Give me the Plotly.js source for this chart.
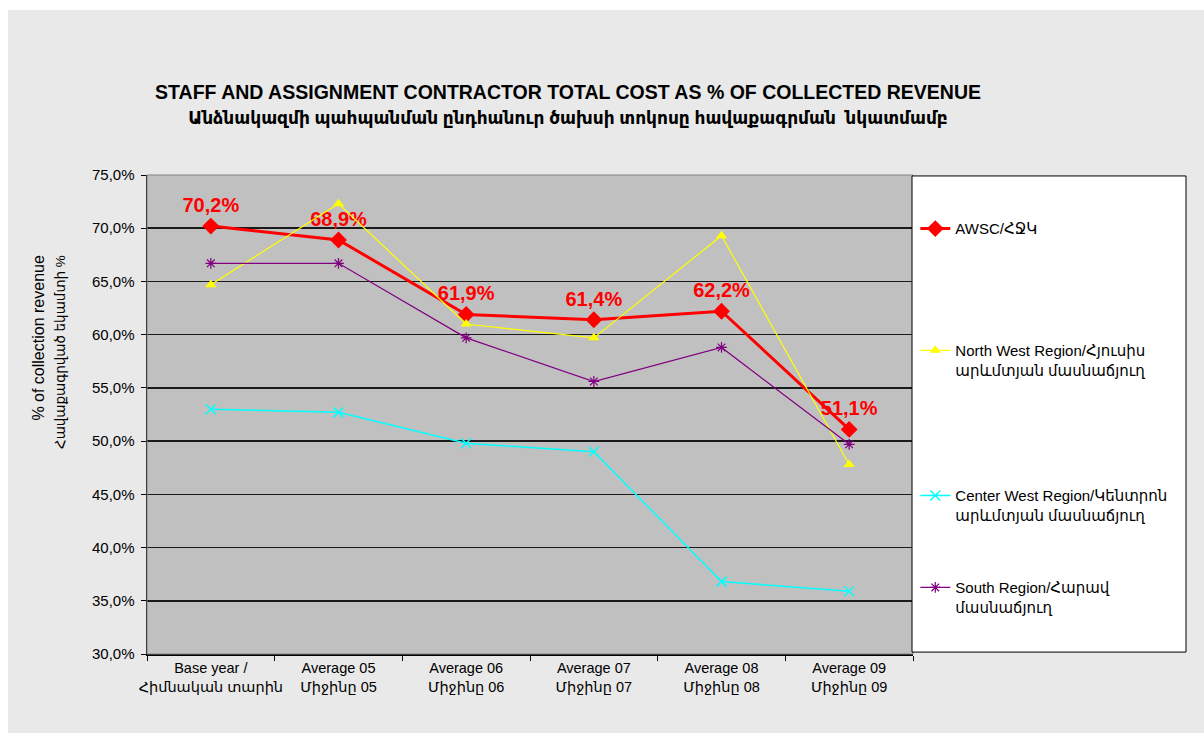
<!DOCTYPE html>
<html>
<head>
<meta charset="utf-8">
<script src="https://cdn.plot.ly/plotly-3.0.1.min.js"></script>
<style>html,body{margin:0;padding:0;background:#fff}#chart{width:1204px;height:733px}</style>
</head>
<body>
<div id="chart"></div>
<script>
var categories = [
  "Base year /<br>Հիմնական տարին",
  "Average 05<br>Միջինը 05",
  "Average 06<br>Միջինը 06",
  "Average 07<br>Միջինը 07",
  "Average 08<br>Միջինը 08",
  "Average 09<br>Միջինը 09"
];
var awsc = [70.2, 68.9, 61.9, 61.4, 62.2, 51.1];
var northWest = [64.7, 72.3, 61.0, 59.7, 69.3, 47.8];
var centerWest = [53.0, 52.7, 49.8, 49.0, 36.8, 35.9];
var south = [66.7, 66.7, 59.7, 55.6, 58.8, 49.7];
var seriesNames = [
  "AWSC/ՀՋԿ",
  "North West Region/Հյուսիս<br>արևմտյան մասնաճյուղ",
  "Center West Region/Կենտրոն<br>արևմտյան մասնաճյուղ",
  "South Region/Հարավ<br>մասնաճյուղ"
];
var yTicks = [30, 35, 40, 45, 50, 55, 60, 65, 70, 75];
var yTitleLines = ["% of collection revenue", "Հավաքագրված եկամտի %"];
var titleLines = [
  "STAFF AND ASSIGNMENT CONTRACTOR TOTAL COST AS % OF COLLECTED REVENUE",
  "Անձնակազմի պահպանման ընդհանուր ծախսի տոկոսը հավաքագրման  նկատմամբ"
];

var FONT = "Arial, 'Liberation Sans', 'DejaVu Sans', sans-serif";

function fmt(v){ return v.toFixed(1).replace('.', ',') + '%'; }

var traces = [
  {
    x: categories, y: awsc, name: seriesNames[0], type: 'scatter', mode: 'lines+markers+text',
    line: {color: '#ff0000', width: 3},
    marker: {symbol: 'diamond', size: 13, color: '#ff0000'},
    text: awsc.map(fmt),
    textposition: 'top center',
    textfont: {family: FONT, size: 20, color: '#ff0000', weight: 'bold'},
    legend: 'legend', cliponaxis: false
  },
  {
    x: categories, y: northWest, name: seriesNames[1], type: 'scatter', mode: 'lines+markers',
    line: {color: '#ffff00', width: 1.2},
    marker: {symbol: 'triangle-up', size: 10, color: '#ffff00'},
    legend: 'legend2', cliponaxis: false
  },
  {
    x: categories, y: centerWest, name: seriesNames[2], type: 'scatter', mode: 'lines+markers',
    line: {color: '#00ffff', width: 1.5},
    marker: {symbol: 'x-thin-open', size: 10, color: '#00ffff', line: {color: '#00ffff', width: 1.5}},
    legend: 'legend3', cliponaxis: false
  },
  {
    x: categories, y: south, name: seriesNames[3], type: 'scatter', mode: 'lines+markers',
    line: {color: '#800080', width: 1.2},
    marker: {symbol: 'asterisk-open', size: 9, color: '#800080', line: {color: '#800080', width: 1.2}},
    legend: 'legend4', cliponaxis: false
  }
];

function leg(y){
  return {x: 1.003, xanchor: 'left', y: y, yanchor: 'top', bgcolor: 'rgba(0,0,0,0)', borderwidth: 0,
    font: {family: FONT, size: 15, color: '#000'}, valign: 'top', itemwidth: 30};
}

var layout = {
  width: 1204, height: 733,
  margin: {l: 147, r: 291, t: 175, b: 79},
  paper_bgcolor: '#e9e9e9',
  plot_bgcolor: '#c0c0c0',
  separators: ',.',
  showlegend: true,
  font: {family: FONT, size: 14, color: '#000'},
  title: {
    text: '<b>' + titleLines[0] + '</b><br><b><span style="font-size:17px">' + titleLines[1] + '</span></b>',
    font: {family: FONT, size: 19.5, color: '#000'},
    x: 0.4718, xanchor: 'center', xref: 'container',
    y: 1 - 99/733, yanchor: 'top', yref: 'container'
  },
  xaxis: {
    type: 'category', range: [-0.5, 5.5], tickson: 'boundaries', ticks: 'outside', ticklen: 5, tickcolor: '#000',
    showline: true, linecolor: '#000', linewidth: 1.5, showgrid: false, tickangle: 0,
    tickfont: {family: FONT, size: 14.5, color: '#000'}, fixedrange: true
  },
  yaxis: {
    range: [30, 75], tickvals: yTicks, ticktext: yTicks.map(fmt),
    ticks: 'outside', ticklen: 5, tickcolor: '#000', ticklabelstandoff: 3,
    showline: true, linecolor: '#000', linewidth: 1.5,
    showgrid: true, gridcolor: '#1a1a1a', gridwidth: 1.5, zeroline: false,
    tickfont: {family: FONT, size: 15, color: '#000'}
  },
  annotations: [
    {
      xref: 'paper', yref: 'paper', x: (49 - 147) / 766, y: (654 - 352) / 479,
      xanchor: 'center', yanchor: 'middle', textangle: -90, align: 'right', showarrow: false,
      text: yTitleLines[0] + '<br><span style="font-size:13.5px">' + yTitleLines[1] + '</span>',
      font: {family: FONT, size: 16, color: '#000'}
    }
  ],
  legend: leg(0.922),
  legend2: leg(0.668),
  legend3: leg(0.365),
  legend4: leg(0.173),
  shapes: [
    {type: 'rect', xref: 'paper', yref: 'paper', x0: 0, x1: 1, y0: 0, y1: 1, line: {color: '#808080', width: 1}, layer: 'above'},
    {type: 'rect', xref: 'paper', yref: 'paper', x0: 0.9987, x1: 1.3564, y0: 0.004, y1: 0.998, fillcolor: '#ffffff', line: {color: '#000', width: 1}, layer: 'above'},
    {type: 'rect', xref: 'paper', yref: 'paper', x0: -0.2, x1: 1.4, y0: 1 + (175-10)/479, y1: 1.4, fillcolor: '#ffffff', line: {width: 0}, layer: 'above'},
    {type: 'rect', xref: 'paper', yref: 'paper', x0: -0.2, x1: -(147-8)/766, y0: -0.2, y1: 1.4, fillcolor: '#ffffff', line: {width: 0}, layer: 'above'}
  ]
};

Plotly.newPlot('chart', traces, layout, {displayModeBar: false, staticPlot: true});
</script>
</body>
</html>
